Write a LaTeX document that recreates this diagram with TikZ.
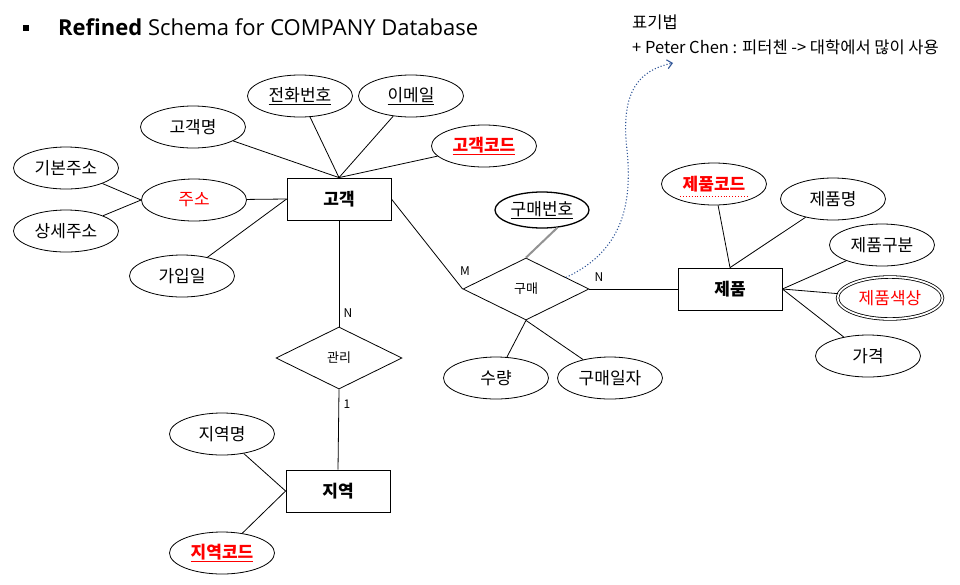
\documentclass[tikz,border=0pt]{standalone}
\usepackage{fontspec}
\setmainfont{Noto Sans CJK KR}
\newfontfamily\titlefont{Open Sans}
\usetikzlibrary{shapes.geometric,arrows.meta,calc}
\definecolor{notecolor}{HTML}{2F5597}
\definecolor{keyred}{HTML}{FF0000}

\begin{document}
\begin{tikzpicture}[
      x=1pt, y=-1pt,
      entity_style/.style={draw, line width=0.8pt, minimum width=104pt, minimum height=42pt, inner sep=0pt, font=\fontsize{17}{19}\selectfont\bfseries},
      attr_style/.style={draw, ellipse, line width=0.8pt, minimum width=105pt, minimum height=42pt, inner sep=0pt, font=\fontsize{17}{19}\selectfont},
      key_style/.style={attr_style, text=keyred, font=\fontsize{17}{19}\selectfont\bfseries},
      rel_style/.style={draw, diamond, aspect=2, line width=0.8pt, minimum width=126pt, minimum height=62pt, inner sep=0pt, font=\fontsize{13}{15}\selectfont},
      card_style/.style={inner sep=0pt, font=\fontsize{12}{14}\selectfont},
      link_style/.style={line width=0.8pt}
  ]
      \useasboundingbox (0,0) rectangle (960,584);

      % title and note
      \node[fill=black, minimum size=6pt, inner sep=0pt] (bullet) at (26,28) {};
      \node[anchor=west, inner sep=0pt, font=\titlefont\fontsize{22}{26}\selectfont] (title) at (58,27) {\textbf{Refined} Schema for COMPANY Database};
      \node[anchor=west, inner sep=0pt, font=\fontsize{16.5}{18}\selectfont] (note_head) at (632,22) {표기법};
      \node[anchor=west, inner sep=0pt, font=\fontsize{16.5}{18}\selectfont] (note_body) at (632,47) {+ Peter Chen : 피터첸 -> 대학에서 많이 사용};

      % entities
      \node[entity_style] (customer) at (339,199) {고객};
      \node[entity_style] (region) at (338,491) {지역};
      \node[entity_style] (product) at (730,289) {제품};

      % relationships
      \node[rel_style] (manage) at (339,358) {관리};
      \node[rel_style] (buy) at (526,289) {구매};

      % attributes of customer
      \node[attr_style] (phone) at (300,96) {\underline{전화번호}};
      \node[attr_style] (email) at (411,96) {\underline{이메일}};
      \node[attr_style] (cname) at (193,127) {고객명};
      \node[key_style] (ccode) at (484,146) {\underline{고객코드}};
      \node[attr_style, text=keyred] (addr) at (194,200) {주소};
      \node[attr_style] (addr_base) at (66,168) {기본주소};
      \node[attr_style] (addr_detail) at (66,231) {상세주소};
      \node[attr_style] (joined) at (182,276) {가입일};

      % attributes of region
      \node[attr_style] (rname) at (222,434) {지역명};
      \node[key_style] (rcode) at (222,553) {\underline{지역코드}};

      % attributes of purchase
      \node[attr_style, line width=1.3pt, minimum width=94pt, minimum height=36pt] (buyno) at (542,210) {\underline{구매번호}};
      \node[attr_style] (qty) at (496,378) {수량};
      \node[attr_style] (buydate) at (610,378) {구매일자};

      % attributes of product
      \node[key_style] (pcode) at (714,184) {제품코드};
      \draw[keyred, dotted, line width=0.9pt] ($(pcode.center)+(-34,12)$) -- ($(pcode.center)+(34,12)$);
      \node[attr_style] (pname) at (833,199) {제품명};
      \node[attr_style] (ptype) at (882,245) {제품구분};
      \node[attr_style, text=keyred, double, double distance=1.8pt] (pcolor) at (890,298) {제품색상};
      \node[attr_style] (price) at (868,356) {가격};

      % cardinalities
      \node[card_style] (card_m) at (465,271) {M};
      \node[card_style] (card_n) at (599,277) {N};
      \node[card_style] (card_mn) at (348,313) {N};
      \node[card_style] (card_m1) at (347,404) {1};

      % links
      \draw[link_style] (cname) -- (customer.north);
      \draw[link_style] (phone) -- (customer.north);
      \draw[link_style] (email) -- (customer.north);
      \draw[link_style] (ccode) -- (customer.north);
      \draw[link_style] (addr) -- (customer.west);
      \draw[link_style] (joined) -- (customer.west);
      \draw[link_style] (addr_base) -- (addr.west);
      \draw[link_style] (addr_detail) -- (addr.west);
      \draw[link_style] (customer.south) -- (manage.north);
      \draw[link_style] (manage.south) -- (region.north);
      \draw[link_style] (rname) -- (region.west);
      \draw[link_style] (rcode) -- (region.west);
      \draw[link_style] (customer.east) -- (buy.west);
      \draw[link_style] (buy.east) -- (product.west);
      \draw[gray!85, line width=2pt] (buyno.-49) -- (buy.north);
      \draw[link_style] (buy.south) -- (qty);
      \draw[link_style] (buy.south) -- (buydate);
      \draw[link_style] (pcode) -- (product.north);
      \draw[link_style] (pname) -- (product.north);
      \draw[link_style] (ptype) -- (product.east);
      \draw[link_style] (pcolor) -- (product.east);
      \draw[link_style] (price) -- (product.east);

      % note arrow
      \coordinate (note_tip) at (673,63);
      \draw[notecolor, dotted, line width=1.1pt, -{Straight Barb[length=5pt, width=9pt]}]
          ($(buy.north)!0.63!(buy.east)$) .. controls (625,250) and (632,200) .. (627,150)
          .. controls (620,90) and (640,70) .. (note_tip);
  \end{tikzpicture}
\end{document}
